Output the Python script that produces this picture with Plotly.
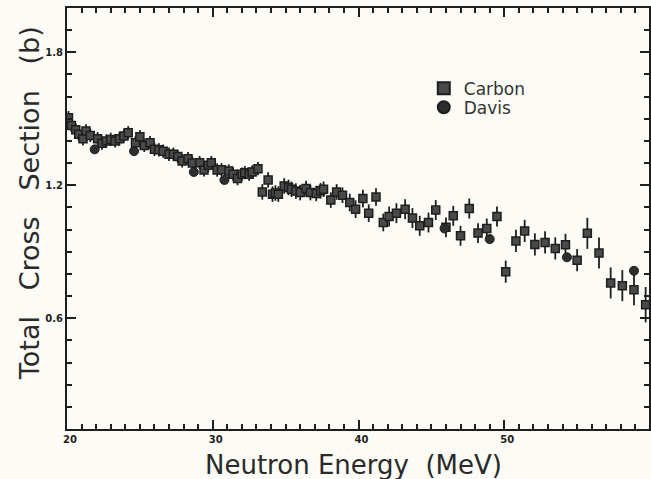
import plotly.graph_objects as go

# Carbon data (energy MeV, total cross section b, uncertainty b)
carbon_energy = [20.1, 20.3, 20.6, 20.8, 21.1, 21.3, 21.6, 22.1, 22.4, 22.7,
                 23.0, 23.3, 23.6, 23.9, 24.2, 24.7, 25.0, 25.3, 25.7, 26.0,
                 26.3, 26.6, 27.0, 27.3, 27.6, 27.9, 28.3, 28.6, 29.1, 29.4,
                 29.7, 29.9, 30.3, 30.6, 31.1, 31.4, 31.7, 32.0, 32.2, 32.5,
                 32.7, 33.1, 33.4, 33.8, 34.1, 34.3, 34.5, 34.9, 35.2, 35.4,
                 35.7, 36.0, 36.4, 36.7, 37.1, 37.4, 37.6, 38.1, 38.5, 38.9,
                 39.4, 39.8, 40.3, 40.7, 41.2, 41.7, 42.1, 42.6, 43.2, 43.7,
                 44.2, 44.8, 45.3, 46.0, 46.5, 47.0, 47.6, 48.2, 48.8, 49.5,
                 50.1, 50.8, 51.4, 52.1, 52.8, 53.5, 54.2, 55.0, 55.7, 56.5,
                 57.3, 58.1, 58.9, 59.7]
carbon_sigma = [1.505, 1.47, 1.45, 1.43, 1.41, 1.445, 1.425, 1.41, 1.39, 1.40,
                1.407, 1.40, 1.41, 1.422, 1.437, 1.392, 1.419, 1.38, 1.392, 1.362,
                1.36, 1.354, 1.34, 1.34, 1.33, 1.31, 1.32, 1.30, 1.302, 1.269,
                1.29, 1.302, 1.269, 1.27, 1.264, 1.25, 1.23, 1.25, 1.257, 1.25,
                1.26, 1.275, 1.17, 1.224, 1.16, 1.165, 1.16, 1.197, 1.19, 1.182,
                1.174, 1.167, 1.185, 1.167, 1.163, 1.175, 1.182, 1.133, 1.17, 1.155,
                1.122, 1.092, 1.14, 1.074, 1.147, 1.032, 1.059, 1.074, 1.092, 1.052,
                1.017, 1.032, 1.088, 1.01, 1.062, 0.972, 1.095, 0.984, 1.005, 1.059,
                0.81, 0.949, 0.994, 0.933, 0.942, 0.915, 0.931, 0.862, 0.983, 0.894,
                0.759, 0.747, 0.728, 0.661]
carbon_err = [0.03, 0.03, 0.03, 0.03, 0.03, 0.03, 0.03, 0.03, 0.03, 0.03,
              0.03, 0.03, 0.03, 0.03, 0.03, 0.03, 0.03, 0.03, 0.03, 0.03,
              0.03, 0.03, 0.03, 0.03, 0.03, 0.03, 0.03, 0.03, 0.03, 0.03,
              0.03, 0.03, 0.03, 0.03, 0.03, 0.03, 0.03, 0.03, 0.03, 0.03,
              0.03, 0.03, 0.035, 0.035, 0.035, 0.035, 0.035, 0.035, 0.035, 0.035,
              0.035, 0.035, 0.035, 0.035, 0.035, 0.035, 0.035, 0.035, 0.035, 0.035,
              0.04, 0.04, 0.04, 0.04, 0.04, 0.04, 0.045, 0.045, 0.045, 0.045,
              0.045, 0.045, 0.045, 0.045, 0.045, 0.045, 0.045, 0.045, 0.045, 0.045,
              0.05, 0.05, 0.05, 0.05, 0.05, 0.05, 0.05, 0.05, 0.07, 0.07,
              0.07, 0.07, 0.07, 0.08]

# Davis data
davis_energy = [21.9, 24.6, 28.7, 30.8, 45.9, 49.0, 54.3, 58.9]
davis_sigma = [1.362, 1.354, 1.26, 1.224, 1.005, 0.957, 0.875, 0.814]

x_tick_vals = [20, 30, 40, 50, 60]
x_tick_text = ["20", "30", "40", "50", "60"]
y_tick_vals = [0.6, 1.2, 1.8]
y_tick_text = ["0.6", "1.2", "1.8"]

bg = "#fcfbf6"
ink = "#1e1e1e"

fig = go.Figure()
fig.add_trace(go.Scatter(
    x=carbon_energy, y=carbon_sigma, mode="markers", name="Carbon",
    legend="legend",
    marker=dict(symbol="square", size=8, color="#4a4a4a",
                line=dict(color="#1e1e1e", width=1.5)),
    error_y=dict(type="data", array=carbon_err, visible=True,
                 color=ink, thickness=1.8, width=0),
))
fig.add_trace(go.Scatter(
    x=davis_energy, y=davis_sigma, mode="markers", name="Davis",
    legend="legend2",
    marker=dict(symbol="circle", size=9, color="#2e2e2e",
                line=dict(color="#1e1e1e", width=1)),
))

tick_font = dict(family="DejaVu Sans", size=10, color=ink, weight="bold")
legend_font = dict(family="DejaVu Sans", size=17, color="#333333")
title_font = dict(family="DejaVu Sans", size=26, color="#2a2a2a")

fig.update_layout(
    width=651, height=479,
    margin=dict(l=67, r=0, t=8, b=50),
    paper_bgcolor=bg, plot_bgcolor=bg,
    showlegend=True,
    legend=dict(x=0.613, y=0.851, xanchor="left", yanchor="top",
                bgcolor="rgba(0,0,0,0)", font=legend_font,
                itemsizing="constant"),
    legend2=dict(x=0.613, y=0.806, xanchor="left", yanchor="top",
                 bgcolor="rgba(0,0,0,0)", font=legend_font,
                 itemsizing="constant"),
    xaxis=dict(range=[20, 59.93], showline=True, linecolor=ink, linewidth=2,
               mirror="allticks", showgrid=False, zeroline=False,
               tickmode="array", tickvals=x_tick_vals, ticktext=x_tick_text,
               ticks="inside", ticklen=9, tickwidth=2, tickcolor=ink,
               tickfont=tick_font, ticklabelshift=3,
               minor=dict(tickmode="linear", tick0=20, dtick=1,
                          ticks="inside", ticklen=5, tickwidth=1.6,
                          tickcolor=ink, showgrid=False)),
    yaxis=dict(range=[0.1, 2.0], showline=True, linecolor=ink, linewidth=2,
               mirror="allticks", showgrid=False, zeroline=False,
               tickmode="array", tickvals=y_tick_vals, ticktext=y_tick_text,
               ticks="inside", ticklen=9, tickwidth=2, tickcolor=ink,
               tickfont=tick_font,
               minor=dict(tickmode="linear", tick0=0, dtick=0.1,
                          ticks="inside", ticklen=5, tickwidth=1.6,
                          tickcolor=ink, showgrid=False)),
    annotations=[
        dict(text="Neutron Energy  (MeV)", xref="paper", yref="paper",
             x=(354 - 67) / 584, y=-36 / 421, xanchor="center", yanchor="middle",
             showarrow=False, font=title_font),
        dict(text="Total   Cross   Section   (b)", xref="paper", yref="paper",
             x=(29 - 67) / 584, y=1 - (203 - 8) / 421, xanchor="center",
             yanchor="middle", textangle=-90, showarrow=False,
             font=dict(family="DejaVu Sans", size=27, color="#2a2a2a")),
    ],
)

fig.write_html("out.html")
